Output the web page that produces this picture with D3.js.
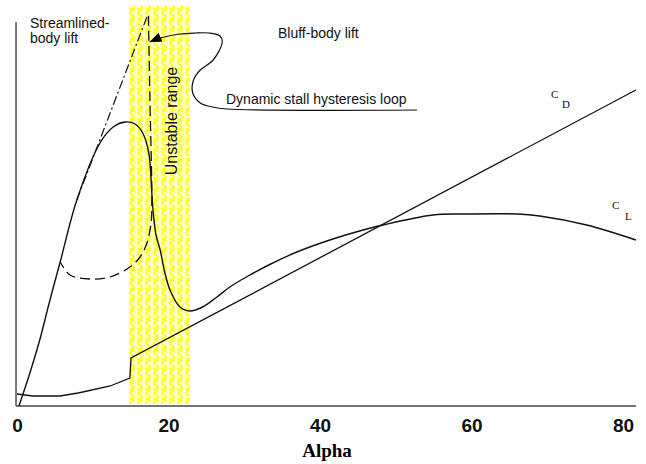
<!DOCTYPE html>
<html>
<head>
<meta charset="utf-8">
<script src="https://cdn.jsdelivr.net/npm/d3@7"></script>
<style>
  body { margin: 0; background: #fff; }
  svg { display: block; }
</style>
</head>
<body>
<div id="chart"></div>
<script>
// data (alpha in degrees, coefficient in arbitrary units)
var alphaTicks = [0, 20, 40, 60, 80];

var clAlpha = [0.26, 1.7, 3.0, 4.35, 5.7, 7.9, 10.95, 12.7, 14.25, 15.6, 16.6, 17.4, 17.8, 17.95, 18.35, 18.9, 19.5, 20.2, 21.5, 22.8, 24.5, 26.4, 28.1, 30.5, 33.5, 36.95, 41.3, 45.7, 48.3, 54.9, 58.9, 66.0, 69.0, 75.2, 81.7];
var clValues = [0, 0.165, 0.33, 0.53, 0.72, 1.03, 1.315, 1.395, 1.42, 1.41, 1.365, 1.265, 1.065, 0.98, 0.855, 0.78, 0.67, 0.58, 0.495, 0.475, 0.495, 0.545, 0.595, 0.65, 0.71, 0.77, 0.83, 0.88, 0.905, 0.955, 0.96, 0.96, 0.95, 0.905, 0.83];

var cdAlpha = [0, 2.1, 5.7, 8.05, 8.7, 12.3, 14.9, 15.05, 81.7];
var cdValues = [0.06, 0.05, 0.05, 0.065, 0.07, 0.10, 0.14, 0.24, 1.58];

var streamAlpha = [7.9, 17.3];
var streamValues = [1.03, 1.96];

var loopAlpha = [17.35, 17.55, 17.8, 17.7, 17.15, 16.25, 14.9, 12.3, 9.6, 7.0, 5.7];
var loopValues = [1.95, 1.53, 1.03, 0.915, 0.815, 0.745, 0.695, 0.645, 0.635, 0.655, 0.72];

var leaderAlpha = [52.8, 27.7, 25.8, 24.2, 23.2, 23.3, 24.2, 25.9, 27.1, 26.8, 25.3, 23.5, 21.5, 18.9, 17.5];
var leaderValues = [1.48, 1.485, 1.495, 1.515, 1.565, 1.63, 1.68, 1.73, 1.82, 1.85, 1.865, 1.865, 1.86, 1.84, 1.82];

var unstableBand = [14.8, 22.8];

var svgWidth = 646, svgHeight = 464;

var svg = d3.select("#chart")
    .append("svg")
    .attr("width", svgWidth)
    .attr("height", svgHeight)
    .style("font-family", "'Liberation Sans', Arial, sans-serif");

svg.append("rect").attr("width", svgWidth).attr("height", svgHeight).attr("fill", "#fff");

var x = d3.scaleLinear().domain([0, 80]).range([17, 623]);
var y = d3.scaleLinear().domain([0, 2]).range([406, 6]);

// yellow squiggle pattern for the unstable band
var defs = svg.append("defs");
var pat = defs.append("pattern")
    .attr("id", "squig")
    .attr("patternUnits", "userSpaceOnUse")
    .attr("width", 8).attr("height", 10);
pat.append("rect").attr("width", 8).attr("height", 10).attr("fill", "#ffffc0");
pat.append("path")
    .attr("d", "M6.5,1.2 C2,-0.5 1,4 4,5 C7,6 6.5,10.5 1.5,8.8")
    .attr("fill", "none")
    .attr("stroke", "#ffff1a")
    .attr("stroke-width", 1.7);

defs.append("marker")
    .attr("id", "arrow")
    .attr("markerUnits", "userSpaceOnUse")
    .attr("markerWidth", 14).attr("markerHeight", 12)
    .attr("refX", 12).attr("refY", 5)
    .attr("orient", "auto")
    .append("path")
    .attr("d", "M0,0 L12,5 L0,10 Z")
    .attr("fill", "#000");

svg.append("rect")
    .attr("x", x(unstableBand[0]))
    .attr("y", y(2))
    .attr("width", x(unstableBand[1]) - x(unstableBand[0]))
    .attr("height", y(0.01) - y(2))
    .attr("fill", "url(#squig)");

// axes
svg.append("line")
    .attr("x1", x(-0.13)).attr("x2", x(-0.13))
    .attr("y1", y(0)).attr("y2", y(1.92))
    .attr("stroke", "#444").attr("stroke-width", 1.4);

var xAxis = svg.append("g")
    .attr("transform", "translate(0," + y(0) + ")")
    .call(d3.axisBottom(x).tickValues(alphaTicks).tickSize(0).tickFormat(d3.format("d")));
xAxis.select(".domain")
    .attr("d", "M" + x(-0.13) + ",0H" + x(81.7))
    .attr("stroke", "#444").attr("stroke-width", 1.4);
xAxis.selectAll("text")
    .attr("y", 26).attr("dy", 0)
    .style("font-family", "'Liberation Sans', Arial, sans-serif")
    .style("font-size", "19px")
    .style("font-weight", "bold")
    .attr("fill", "#111");

svg.append("text")
    .attr("x", x(40) + 7).attr("y", 457)
    .attr("text-anchor", "middle")
    .style("font-family", "'Liberation Serif', 'Times New Roman', serif")
    .style("font-weight", "bold")
    .style("font-size", "19px")
    .text("Alpha");

var toPts = function (xs, ys) { return xs.map(function (d, i) { return [d, ys[i]]; }); };

var smooth = d3.line()
    .x(function (d) { return x(d[0]); })
    .y(function (d) { return y(d[1]); })
    .curve(d3.curveCatmullRom.alpha(0.5));

var straight = d3.line()
    .x(function (d) { return x(d[0]); })
    .y(function (d) { return y(d[1]); });

// streamlined body lift (dash-dot)
svg.append("path")
    .attr("d", straight(toPts(streamAlpha, streamValues)))
    .attr("fill", "none").attr("stroke", "#111").attr("stroke-width", 1.2)
    .attr("stroke-dasharray", "9,3,2,3");

// hysteresis loop (dashed)
svg.append("path")
    .attr("d", smooth(toPts(loopAlpha, loopValues)))
    .attr("fill", "none").attr("stroke", "#111").attr("stroke-width", 1.3)
    .attr("stroke-dasharray", "10,5");

// CL
svg.append("path")
    .attr("d", smooth(toPts(clAlpha, clValues)))
    .attr("fill", "none").attr("stroke", "#111").attr("stroke-width", 1.4);

// CD
svg.append("path")
    .attr("d", straight(toPts(cdAlpha, cdValues)))
    .attr("fill", "none").attr("stroke", "#111").attr("stroke-width", 1.3);

// leader line to the loop
svg.append("path")
    .attr("d", smooth(toPts(leaderAlpha, leaderValues)))
    .attr("fill", "none").attr("stroke", "#111").attr("stroke-width", 1.2)
    .attr("marker-end", "url(#arrow)");

// labels
var lbl = svg.append("g").style("font-size", "14px").attr("fill", "#111");
lbl.append("text").attr("x", 30).attr("y", 28).text("Streamlined-");
lbl.append("text").attr("x", 30).attr("y", 43).text("body lift");
lbl.append("text").attr("x", 278).attr("y", 38).text("Bluff-body lift");
lbl.append("text").attr("x", 226).attr("y", 104).text("Dynamic stall hysteresis loop");

svg.append("text")
    .attr("transform", "translate(177,121) rotate(-90)")
    .attr("text-anchor", "middle")
    .style("font-size", "16px")
    .attr("fill", "#111")
    .text("Unstable range");

var serif = svg.append("g")
    .style("font-family", "'Liberation Serif', 'Times New Roman', serif")
    .style("font-size", "11px")
    .attr("fill", "#111");
serif.append("text").attr("x", 551).attr("y", 98).text("C");
serif.append("text").attr("x", 562).attr("y", 108).text("D");
serif.append("text").attr("x", 612).attr("y", 209).text("C");
serif.append("text").attr("x", 625).attr("y", 220).text("L");
</script>
</body>
</html>
